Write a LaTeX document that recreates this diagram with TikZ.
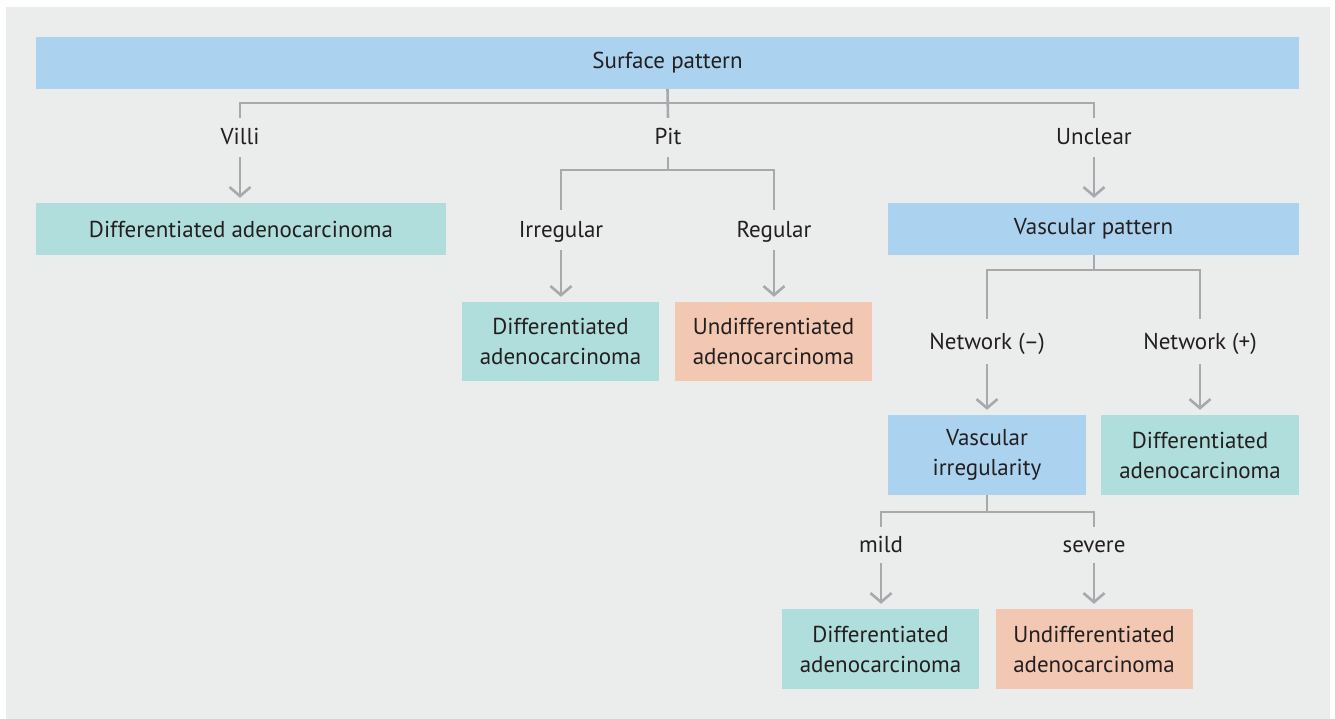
\documentclass[tikz,border=0pt]{standalone}
\usepackage{fontspec}
\setmainfont{PT Sans}
\usetikzlibrary{arrows.meta, positioning}
\definecolor{panelgray}{RGB}{235,236,236}
\definecolor{boxblue}{RGB}{171,211,239}
\definecolor{boxteal}{RGB}{176,222,220}
\definecolor{boxsalmon}{RGB}{242,200,179}
\definecolor{linegray}{RGB}{167,169,172}
\definecolor{textdark}{RGB}{35,31,32}
\tikzstyle{box} = [rectangle, inner sep=0pt, text centered, align=center, text=textdark, font=\fontsize{23}{30}\selectfont]
\tikzstyle{decision} = [box, fill=boxblue]
\tikzstyle{diffbox} = [box, fill=boxteal, minimum width=197pt, minimum height=79pt]
\tikzstyle{undiffbox} = [box, fill=boxsalmon, minimum width=197pt, minimum height=79pt]
\tikzstyle{branch} = [rectangle, inner sep=0pt, text=textdark, font=\fontsize{23}{30}\selectfont, text height=19pt, text depth=4pt]
\tikzstyle{line} = [draw=linegray, line width=2.6pt]
\tikzstyle{arrow} = [line, -{Straight Barb[length=9pt,width=21pt]}, shorten >=5pt]

\begin{document}
\begin{tikzpicture}[x=1pt, y=-1pt]

% Panel
\useasboundingbox (0,0) rectangle (1335,719);
\fill[panelgray] (6,7) rectangle (1330,719);

% Surface pattern
\node[decision, minimum width=1263pt, minimum height=52pt] (surface) at (667.5,63) {Surface pattern};
\coordinate (surfbus) at (668,103);
\node[branch, minimum height=39pt] (villi) at (240,137.5) {Villi};
\node[branch, minimum height=39pt] (pit) at (668,137.5) {Pit};
\node[branch, minimum height=39pt] (unclear) at (1094,137.5) {Unclear};

% Villi
\node[box, fill=boxteal, minimum width=410pt, minimum height=52pt] (diffA) at (241,229) {Differentiated adenocarcinoma};

% Pit
\coordinate (pitbus) at (668,170);
\node[branch, minimum height=40pt] (irregular) at (561,230) {Irregular};
\node[branch, minimum height=40pt] (regular) at (774,230) {Regular};
\node[diffbox] (diffB) at (560.5,341.5) {Differentiated\\adenocarcinoma};
\node[undiffbox] (undiffB) at (773.5,341.5) {Undifferentiated\\adenocarcinoma};

% Unclear
\node[decision, minimum width=411pt, minimum height=52pt] (vascpat) at (1093.5,229) {Vascular pattern};
\coordinate (vascbus) at (1094,270);
\node[branch, minimum height=45pt] (netminus) at (987,341.5) {Network (–)};
\node[branch, minimum height=45pt] (netplus) at (1200,341.5) {Network (+)};
\node[decision, minimum width=198pt, minimum height=80pt] (vascirr) at (987,455) {Vascular\\irregularity};
\node[diffbox, minimum width=198pt, minimum height=80pt] (diffC) at (1200,455) {Differentiated\\adenocarcinoma};

% Vascular irregularity
\coordinate (irrbus) at (987,512);
\node[branch, minimum height=36pt] (mild) at (881,545) {mild};
\node[branch, minimum height=36pt] (severe) at (1094,545) {severe};
\node[diffbox, minimum height=80pt] (diffD) at (880.5,649) {Differentiated\\adenocarcinoma};
\node[undiffbox, minimum height=80pt] (undiffD) at (1094,649) {Undifferentiated\\adenocarcinoma};

% Connections
\draw[line] (surface.south) -- (pit.north);
\draw[line] (villi.north) |- (surfbus) -| (unclear.north);
\draw[arrow] (villi.south) -- (diffA.north -| villi.south);
\draw[arrow] (unclear.south) -- (vascpat.north -| unclear.south);
\draw[line] (pit.south) -- (pitbus);
\draw[line] (irregular.north) |- (pitbus) -| (regular.north);
\draw[arrow] (irregular.south) -- (diffB.north -| irregular.south);
\draw[arrow] (regular.south) -- (undiffB.north -| regular.south);
\draw[line] (vascpat.south -| vascbus) -- (vascbus);
\draw[line] (netminus.north) |- (vascbus) -| (netplus.north);
\draw[arrow] (netminus.south) -- (vascirr.north);
\draw[arrow] (netplus.south) -- (diffC.north);
\draw[line] (vascirr.south) -- (irrbus);
\draw[line] (mild.north) |- (irrbus) -| (severe.north);
\draw[arrow] (mild.south) -- (diffD.north -| mild.south);
\draw[arrow] (severe.south) -- (undiffD.north);

\end{tikzpicture}
\end{document}
